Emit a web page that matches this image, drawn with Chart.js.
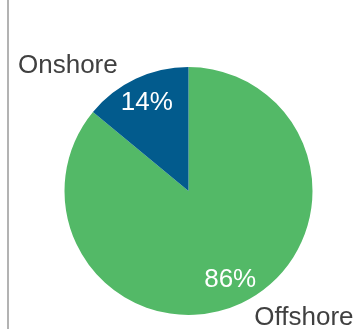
<!DOCTYPE html>
<html>
<head>
<meta charset="utf-8">
<script src="https://cdn.jsdelivr.net/npm/chart.js@4"></script>
<style>
  html, body { margin: 0; padding: 0; background: #fff; }
  #wrap { position: relative; width: 357px; height: 329px; }
  #rule { position: absolute; left: 7px; top: 0; width: 2px; height: 329px; background: #b3b3b3; }
</style>
</head>
<body>
<div id="wrap">
  <div id="rule"></div>
  <canvas id="chart" width="357" height="329"></canvas>
</div>
<script>
// data
const categories = ['Offshore', 'Onshore'];
const shares = [86, 14];
const sliceColors = ['#53b967', '#025b8d'];

const FONT = '26px "Liberation Sans", Arial, sans-serif';

// labels: percent inside, category name outside
const pieLabels = {
  id: 'pieLabels',
  afterDatasetsDraw(chart) {
    const ctx = chart.ctx;
    const arcs = chart.getDatasetMeta(0).data;
    ctx.save();
    ctx.font = FONT;
    arcs.forEach((arc, i) => {
      const p = arc.getProps(['x', 'y', 'startAngle', 'endAngle', 'outerRadius']);
      const mid = (p.startAngle + p.endAngle) / 2;
      const cx = Math.cos(mid), cy = Math.sin(mid);
      // percent
      const r1 = p.outerRadius * 0.79;
      ctx.fillStyle = '#ffffff';
      ctx.textAlign = 'center';
      ctx.textBaseline = 'middle';
      ctx.fillText(shares[i] + '%', p.x + cx * r1, p.y + cy * r1);
      // category name
      const r2 = p.outerRadius + 14;
      const ax = p.x + cx * r2, ay = p.y + cy * r2;
      ctx.fillStyle = '#404040';
      if (cx < 0) {
        ctx.textAlign = 'right';
        ctx.fillText(categories[i], ax - 12, ay);
      } else {
        ctx.textAlign = 'left';
        ctx.fillText(categories[i], ax + 7, ay + 2);
      }
    });
    ctx.restore();
  }
};

new Chart(document.getElementById('chart').getContext('2d'), {
  type: 'pie',
  data: {
    labels: categories,
    datasets: [{
      data: shares,
      backgroundColor: sliceColors,
      borderWidth: 0
    }]
  },
  options: {
    responsive: false,
    animation: false,
    layout: { padding: { left: 64.5, right: 44.5, top: 67, bottom: 14 } },
    plugins: {
      legend: { display: false },
      tooltip: { enabled: false }
    }
  },
  plugins: [pieLabels]
});
</script>
</body>
</html>
